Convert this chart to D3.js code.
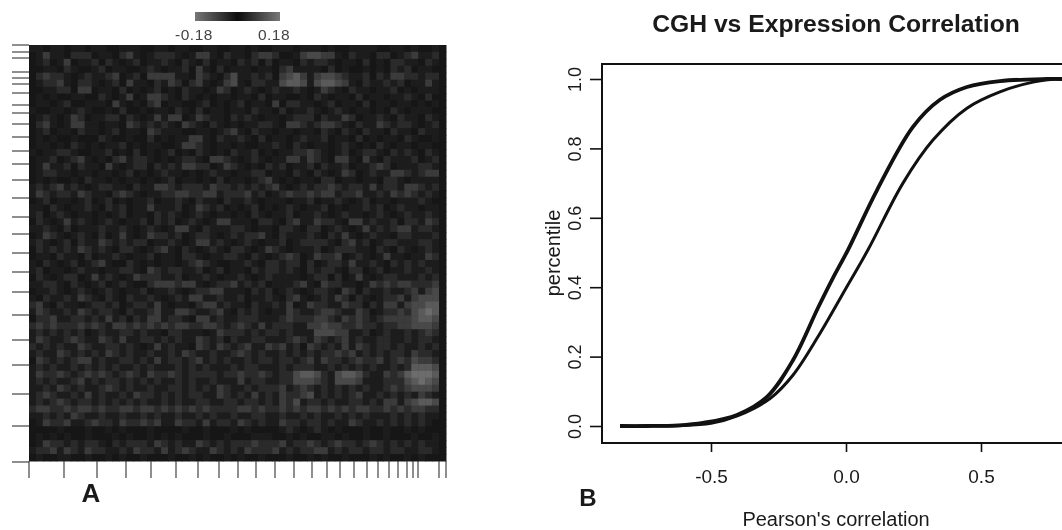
<!DOCTYPE html>
<html>
<head>
<meta charset="utf-8">
<script src="https://cdn.jsdelivr.net/npm/d3@7"></script>
<style>
html, body { margin: 0; padding: 0; background: #fff; }
svg { display: block; filter: blur(0.4px); }
text { font-family: "Liberation Sans", Arial, sans-serif; fill: #1a1a1a; }
</style>
</head>
<body>
<div id="chart"></div>
<script>
//panel A: hand estimated magnitudes, 0-6 is 0 to 0.18 in steps of 0.03
var heatRows = [
"1101101101 1001110011 0110011001 1010011101 1101001111 0011010010",
"0131102220 1102310122 2101331021 1023320013 4433102110 2201231120",
"0120130112 0210120112 1021020110 2120201102 1221011020 1022110210",
"0011021001 2011001210 1120310201 1101102311 1102010010 1021201100",
"0232210121 1230120333 3110321024 1121203453 1344321120 2133221220",
"0122310221 0120311021 3202310134 1022114554 1455431021 1212011310",
"0011220330 1102010120 1021101320 1210121121 0132102110 1120101110",
"0101001100 2101301332 1021010110 1102011001 0210110201 1011210200",
"0110120011 1031010230 1100120101 2011030221 1012011020 1101101010",
"1001101210 0102001011 0210201101 1021102011 2101210110 1021011100",
"0121013201 1220210131 3301321102 1210110122 2021132011 2102110210",
"0231013311 0110321212 1032102101 0112210332 1233210211 3212210120",
"0120110211 0120110321 1100110123 1021101101 1021021021 1021102110",
"0101001000 2100100201 0113310211 2102011012 1120110201 0110210010",
"0110102101 0112010110 0133210110 1001121021 0110121010 2101101100",
"1011221001 1201020101 2010210102 1120101122 3210120122 1021210210",
"0112012310 1023122101 0122103321 0121011331 3210331031 0211120120",
"0131120211 0310122021 2133220132 1010212011 2021120112 3201112210",
"0122110110 1101201012 1101012110 1122011021 0210132012 1133212330",
"0101001021 1010110101 2011010201 1012310101 1022011011 0221011110",
"1212312101 2211021133 2122213221 2121231012 1223212213 1221332120",
"1321221321 1023210112 2332233122 2312012322 3233122311 2132321210",
"0120110120 1201011201 1210211021 1210111011 2011210120 1101112100",
"1102101121 0212011311 1201321201 0120101210 1120101121 2012110110",
"1201210110 1012011021 2101210110 1021011201 1210121101 2101211210",
"0210131210 1210112021 2012101331 1102210231 1322103312 1120221320",
"1121020111 2112101210 1331021112 2101102210 2201210131 2123312210",
"0132101210 2013101322 1201221012 1223102111 2102131012 1102211120",
"1210120211 3212122011 2101331210 1210112012 2221023120 1221112210",
"0212121321 2102210123 1021012102 2101321011 1201222110 2102101210",
"0110211020 1121011201 1022101122 1021012320 1322301210 1311011320",
"1021012012 3100210101 1012321001 1210221220 2012213112 1021212110",
"1201101211 0112210321 2211201201 1021221210 2122102201 2011211210",
"0210122013 1210132221 1201121011 2101211110 1220201310 1221112120",
"1122102101 2012100233 3233101223 1212011123 1032211013 2323322230",
"0112101210 1210112011 2101223311 1021201210 1221032021 1211231340",
"1021121321 0210211210 1213311211 2011210231 0121320210 1223134440",
"2310211012 2120122131 0110233121 1021121301 3221132202 1331344550",
"1321121321 2210211231 1332112310 2121011321 1233211320 1223245650",
"0223112212 1312021331 2210331211 2221112322 2332132321 2333345540",
"2323222323 2133232323 2332233212 3213122211 3343322322 1223344430",
"1212121201 2112212110 2211101322 2121221211 1444331120 1211212320",
"1321123211 3213112212 1211321202 1122111232 1321231211 2211212210",
"2121211321 1221210131 2110321321 2311323120 3212131321 2212112120",
"1211321212 1321211211 2132112112 3212112121 2122323121 2122132210",
"0321212331 2112212131 2212312121 1212212212 3132212322 3123243320",
"1212112121 2121121211 1212121112 1221112122 2112121212 1121255540",
"1322321232 3212321322 3212222122 3223212245 5421455421 1323566650",
"1212112312 1221212121 1212112111 3122112244 4321444311 1222456540",
"1121321211 2321211211 2212121321 1212223123 2121212121 1232344430",
"1232112131 2112132212 1212211321 2131213223 4121212311 2121213210",
"1212321221 2121212112 1211221122 1221213241 2212112212 1331345540",
"2332232332 3223323323 2323232222 3323223232 3323232332 2323233220",
"1121213211 2112112121 1211212112 1122112112 1211212121 1121212110",
"0132231123 2213223231 1322131221 3212113221 2212113211 2121212100",
"0000100010 0101000100 0010010001 0100001210 1210100010 0100101000",
"0101010010 0010100101 0100010010 0011100101 0011010010 0100010010",
"0132212122 1021222132 1211321212 2232223122 3212322123 2121212110",
"1223132132 2112132213 1232113212 1322231212 2331212212 2122112210",
"0100110010 0101001000 1001010010 1001000100 1010010001 0100101000"
];
//tick positions of the side rulers on the image map, in page pixels as read
var rowTicks = [45,52,58,72,78,84,93,105,113,124,137,151,164,180,198,217,234,253,272,292,315,340,365,394,426,462];
var colTicks = [29,64,97,126,151,176,198,219,238,256,275,294,312,327,340,354,367,378,389,398,407,413,418,439,446];
var barStops = [-0.18, -0.09, 0, 0.09, 0.18];
var barLabels = ["-0.18", "0.18"];

//panel B: cumulative curves
var corrThick = [-0.837,-0.74,-0.62,-0.53,-0.404,-0.293,-0.196,-0.104,-0.05,0.007,0.115,0.248,0.348,0.448,0.57,0.744,0.80];
var pctThick  = [0,0,0.002,0.009,0.032,0.084,0.19,0.34,0.424,0.507,0.68,0.862,0.94,0.977,0.994,1,1];
var corrThin  = [-0.837,-0.62,-0.5,-0.4,-0.28,-0.196,-0.104,0,0.081,0.211,0.322,0.448,0.57,0.693,0.77,0.80];
var pctThin   = [0,0.001,0.008,0.03,0.08,0.147,0.257,0.397,0.507,0.70,0.824,0.916,0.963,0.991,0.999,1];
var xTickVals = [-0.5, 0, 0.5];
var yTickVals = [0, 0.2, 0.4, 0.6, 0.8, 1];

var svg = d3.select("#chart").append("svg")
    .attr("width", 1062)
    .attr("height", 530);

var defs = svg.append("defs");
defs.append("filter").attr("id", "soft")
    .attr("x", 0).attr("y", 0).attr("width", 1).attr("height", 1)
    .append("feGaussianBlur").attr("stdDeviation", 0.7);

var grad = defs.append("linearGradient").attr("id", "barGrad");
var heatColor = d3.scalePow().exponent(1.3)
    .domain([0, 0.18])
    .range(["#171717", "#6c6c6c"]);
var barColor = d3.scaleLinear()
    .domain([-0.18, 0, 0.18])
    .range(["#777777", "#0c0c0c", "#777777"]);
barStops.forEach(function(v){
    grad.append("stop")
        .attr("offset", ((v + 0.18) / 0.36 * 100) + "%")
        .attr("stop-color", barColor(v));
});

//heat map
var cells = [];
heatRows.forEach(function(row, r){
    row.replace(/ /g, "").split("").forEach(function(ch, c){
        cells.push({r: r, c: c, v: +ch * 0.03});
    });
});
var heatX = d3.scaleBand().domain(d3.range(60)).range([29, 446]);
var heatY = d3.scaleBand().domain(d3.range(heatRows.length)).range([45, 461]);

svg.append("rect")
    .attr("x", 29).attr("y", 45).attr("width", 417).attr("height", 416)
    .attr("fill", "#171717");

svg.append("g").attr("filter", "url(#soft)")
    .selectAll("rect")
    .data(cells)
    .enter()
    .append("rect")
    .attr("x", function(d){ return heatX(d.c); })
    .attr("y", function(d){ return heatY(d.r); })
    .attr("width", heatX.bandwidth() + 0.5)
    .attr("height", heatY.bandwidth() + 0.5)
    .attr("fill", function(d){ return heatColor(d.v); });

svg.append("g").selectAll("line")
    .data(rowTicks)
    .enter()
    .append("line")
    .attr("x1", 12).attr("x2", 29)
    .attr("y1", function(d){ return d; })
    .attr("y2", function(d){ return d; })
    .attr("stroke", "#444").attr("stroke-width", 1.2);

svg.append("g").selectAll("line")
    .data(colTicks)
    .enter()
    .append("line")
    .attr("y1", 461).attr("y2", 478)
    .attr("x1", function(d){ return d; })
    .attr("x2", function(d){ return d; })
    .attr("stroke", "#444").attr("stroke-width", 1.2);

//color key
svg.append("rect")
    .attr("x", 195).attr("y", 12).attr("width", 85).attr("height", 9)
    .attr("fill", "url(#barGrad)");
svg.append("g").selectAll("text")
    .data(barLabels)
    .enter()
    .append("text")
    .attr("x", function(d, i){ return [194, 274][i]; })
    .attr("y", 40)
    .attr("text-anchor", "middle")
    .attr("font-size", 15.5)
    .attr("letter-spacing", 0.5)
    .style("fill", "#444")
    .text(function(d){ return d; });

svg.append("text")
    .attr("x", 91).attr("y", 502)
    .attr("text-anchor", "middle")
    .attr("font-size", 26).attr("font-weight", "bold")
    .text("A");

//curve panel
var x = d3.scaleLinear().domain([-0.5, 0.5]).range([711, 981]);
var y = d3.scaleLinear().domain([0, 1]).range([426, 79]);

var line = d3.line()
    .x(function(d){ return x(d[0]); })
    .y(function(d){ return y(d[1]); })
    .curve(d3.curveCatmullRom.alpha(0.5));

svg.append("path")
    .attr("d", "M1070,64H602V443H1070")
    .attr("fill", "none")
    .attr("stroke", "#111").attr("stroke-width", 2);

svg.append("path")
    .attr("d", line(d3.zip(corrThin, pctThin)))
    .attr("fill", "none")
    .attr("stroke", "#111").attr("stroke-width", 3);
svg.append("path")
    .attr("d", line(d3.zip(corrThick, pctThick)))
    .attr("fill", "none")
    .attr("stroke", "#111").attr("stroke-width", 3.8);

var xAxis = svg.append("g").attr("transform", "translate(0,443)")
    .call(d3.axisBottom(x).tickValues(xTickVals).tickSize(9).tickSizeOuter(0).tickFormat(d3.format(".1f")));
xAxis.select(".domain").remove();
xAxis.selectAll("line").attr("stroke", "#111").attr("stroke-width", 1.6);
xAxis.selectAll("text").attr("y", 40).attr("dy", 0).attr("font-size", 19)
    .attr("font-family", null).text(function(d){ return d3.format(".1f")(d).replace("\u2212", "-"); });

var yAxis = svg.append("g").attr("transform", "translate(602,0)")
    .call(d3.axisLeft(y).tickValues(yTickVals).tickSize(12).tickSizeOuter(0).tickFormat(d3.format(".1f")));
yAxis.select(".domain").remove();
yAxis.selectAll("line").attr("stroke", "#111").attr("stroke-width", 1.6);
yAxis.selectAll("text")
    .attr("x", 0).attr("y", 0).attr("dy", 0)
    .attr("text-anchor", "middle")
    .attr("font-size", 18).attr("font-family", null)
    .attr("transform", "translate(-21,0) rotate(-90)");

svg.append("text")
    .attr("x", 836).attr("y", 32)
    .attr("text-anchor", "middle")
    .attr("font-size", 24.7).attr("font-weight", "bold")
    .text("CGH vs Expression Correlation");

svg.append("text")
    .attr("x", 836).attr("y", 526)
    .attr("text-anchor", "middle")
    .attr("font-size", 20)
    .text("Pearson's correlation");

svg.append("text")
    .attr("transform", "translate(560,253) rotate(-90)")
    .attr("text-anchor", "middle")
    .attr("font-size", 20)
    .text("percentile");

svg.append("text")
    .attr("x", 588).attr("y", 506)
    .attr("text-anchor", "middle")
    .attr("font-size", 24).attr("font-weight", "bold")
    .text("B");
</script>
</body>
</html>
